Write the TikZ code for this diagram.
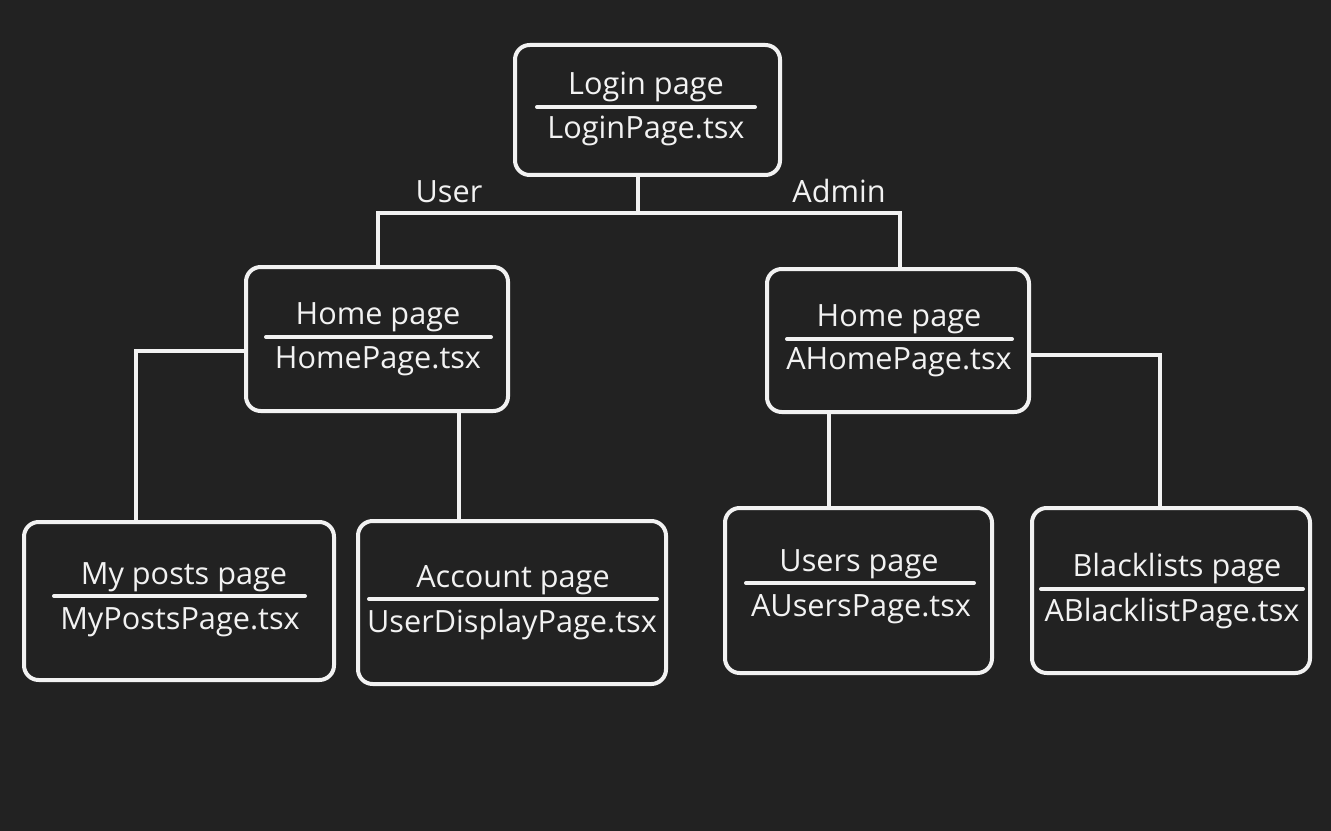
\documentclass[tikz,border=0pt]{standalone}
\usepackage{fontspec}
\setmainfont{Open Sans}
\definecolor{bg}{HTML}{222222}
\definecolor{fg}{HTML}{F2F2F2}
\begin{document}
\begin{tikzpicture}[x=0.75pt,y=-0.75pt,
  pagebox/.style={draw=fg,line width=3pt,rounded corners=11pt,inner sep=0pt},
  txt/.style={text=fg,font=\fontsize{23}{27}\selectfont,inner sep=0pt,anchor=base},
  rule/.style={draw=fg,line width=3pt,line cap=round},
  conn/.style={draw=fg,line width=3pt}]
\fill[bg] (0,0) rectangle (1331,831);
\useasboundingbox (0,0) rectangle (1331,831);
% boxes
\node[pagebox,minimum width=265*0.75pt,minimum height=130*0.75pt] (login) at (647.5,110) {};
\node[pagebox,minimum width=262*0.75pt,minimum height=144*0.75pt] (homeu) at (377,339) {};
\node[pagebox,minimum width=262*0.75pt,minimum height=143*0.75pt] (homea) at (898,340.5) {};
\node[pagebox,minimum width=310*0.75pt,minimum height=158*0.75pt] (posts) at (179,601) {};
\node[pagebox,minimum width=308*0.75pt,minimum height=163*0.75pt] (account) at (512,602.5) {};
\node[pagebox,minimum width=267*0.75pt,minimum height=165*0.75pt] (users) at (858.5,590.5) {};
\node[pagebox,minimum width=278*0.75pt,minimum height=165*0.75pt] (black) at (1171,590.5) {};
% texts
\node[txt] (t1a) at (646,95) {Login page};
\node[txt] (t1b) at (646,139) {LoginPage.tsx};
\draw[rule] (537,107) -- (755,107);
\node[txt] (t2a) at (378,324) {Home page};
\node[txt] (t2b) at (378,368) {HomePage.tsx};
\draw[rule] (266,337) -- (491,337);
\node[txt] (t3a) at (899,326) {Home page};
\node[txt] (t3b) at (899,369) {AHomePage.tsx};
\draw[rule] (787,339) -- (1012,339);
\node[txt] (t4a) at (184,584) {My posts page};
\node[txt] (t4b) at (180,629) {MyPostsPage.tsx};
\draw[rule] (54,596) -- (305,596);
\node[txt] (t5a) at (513,587) {Account page};
\node[txt] (t5b) at (512,632) {UserDisplayPage.tsx};
\draw[rule] (369,599) -- (657,599);
\node[txt] (t6a) at (859,571) {Users page};
\node[txt] (t6b) at (861,616) {AUsersPage.tsx};
\draw[rule] (746,583) -- (974,583);
\node[txt] (t7a) at (1177,576) {Blacklists page};
\node[txt] (t7b) at (1172,621) {ABlacklistPage.tsx};
\draw[rule] (1041,589) -- (1303,589);
% labels
\node[txt] (luser) at (449,202) {User};
\node[txt] (ladmin) at (839,203) {Admin};
% connector coordinates
\coordinate (j0) at (638,213);
\coordinate (jl) at (378,213);
\coordinate (jr) at (900,213);
\coordinate (pl) at (136,351);
\coordinate (ab) at (459,0);
\coordinate (ar) at (1160,355);
\coordinate (ub) at (829,0);
% connectors
\draw[conn] (j0 |- login.south) -- (j0);
\draw[conn] (jl |- homeu.north) -- (jl) -- (jr) -- (jr |- homea.north);
\draw[conn] (pl -| homeu.west) -- (pl) -- (pl |- posts.north);
\draw[conn] (ab |- homeu.south) -- (ab |- account.north);
\draw[conn] (ar -| homea.east) -- (ar) -- (ar |- black.north);
\draw[conn] (ub |- homea.south) -- (ub |- users.north);
\end{tikzpicture}
\end{document}
